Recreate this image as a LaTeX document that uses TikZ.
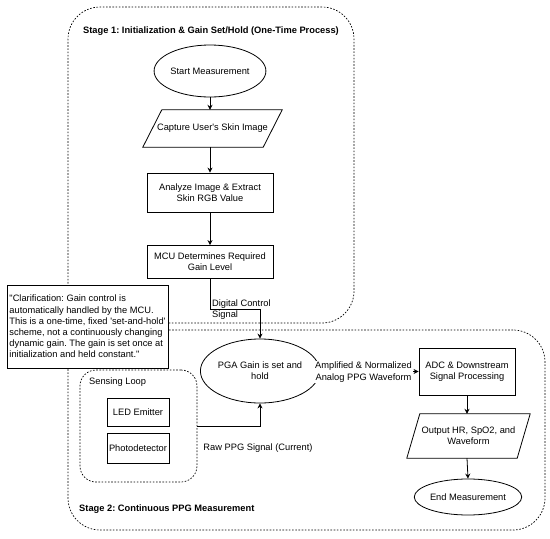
\documentclass[tikz,border=0pt]{standalone}
\usepackage{fontspec}
\setmainfont{Liberation Sans}
\usetikzlibrary{shapes.geometric,arrows.meta}
\begin{document}
\frenchspacing
\begin{tikzpicture}[x=1pt,y=-1pt,
  font=\fontsize{9.3}{11.2}\selectfont,
  stagebox/.style={draw, line width=0.7pt, dash pattern=on 1.6pt off 1.6pt, rounded corners=32pt, inner sep=0pt},
  loopbox/.style={draw, line width=0.7pt, dash pattern=on 1.6pt off 1.6pt, rounded corners=16pt, inner sep=0pt},
  procbox/.style={draw, line width=0.8pt, fill=white, inner sep=0pt, align=center},
  termin/.style={draw, ellipse, line width=0.8pt, fill=white, inner sep=0pt, align=center},
  iobox/.style={inner sep=0pt, align=center},
  conn/.style={line width=0.8pt, -{Stealth[length=5pt,width=5pt]}},
  lbl/.style={inner sep=0pt, align=left}
]
\useasboundingbox (0,0) rectangle (550,539);

% stage containers
\node[stagebox, minimum width=286pt, minimum height=316pt] (s1) at (211,165) {};
\node[stagebox, minimum width=477pt, minimum height=200pt] (s2) at (306.5,430) {};
\node[font=\fontsize{9.3}{11.2}\selectfont\bfseries] (t1) at (211,31) {Stage 1: Initialization \& Gain Set/Hold (One-Time Process)};
\node[font=\fontsize{9.3}{11.2}\selectfont\bfseries, anchor=west, inner sep=0pt] (t2) at (79,509) {Stage 2: Continuous PPG Measurement};

% stage 1 flow
\node[termin, minimum width=92pt, minimum height=52pt] (start) at (210,71) {Start Measurement};
\node[iobox, minimum width=139pt, minimum height=37pt] (cap) at (212.5,128.5) {Capture User\textquotesingle s Skin Image};
\draw[line width=0.8pt] ([xshift=19pt]cap.north west) -- (cap.north east) -- ([xshift=-19pt]cap.south east) -- (cap.south west) -- cycle;
\node[procbox, minimum width=126pt, minimum height=39pt] (ana) at (210,192.5) {Analyze Image \& Extract\\Skin RGB Value};
\node[procbox, minimum width=126pt, minimum height=33pt] (mcu) at (210,262) {MCU Determines Required\\Gain Level};

\draw[conn] (start.south) -- (start.south |- cap.north);
\draw[conn] (start.south |- cap.south) -- (ana.north);
\draw[conn] (ana.south) -- (mcu.north);

% clarification
\node[procbox, align=left, minimum width=161pt, minimum height=83pt] (note) at (87.5,326.5) {\textquotedbl Clarification: Gain control is\\automatically handled by the MCU.\\This is a one-time, fixed \textquotesingle set-and-hold\textquotesingle\\scheme, not a continuously changing\\dynamic gain. The gain is set once at\\initialization and held constant.\textquotedbl};

% stage 2
\node[termin, minimum width=96pt, minimum height=64pt] (pga) at (260,371) {PGA Gain is set and\\hold};
\coordinate (bend1) at (260,309.5);
\draw[conn] (mcu.south) |- (bend1) -- (pga.north);
\node[lbl, anchor=west] (dcl) at (212,309.5) {Digital Control\\Signal};

\node[loopbox, minimum width=117pt, minimum height=112pt] (loop) at (138.5,426) {};
\node[lbl, anchor=west] (loopt) at (89,382) {Sensing Loop};
\node[procbox, minimum width=62pt, minimum height=28pt] (led) at (138,412) {LED Emitter};
\node[procbox, minimum width=62pt, minimum height=30pt] (pd) at (138,448) {Photodetector};

\coordinate (bend2) at (260,426);
\draw[conn] (loop.east |- bend2) -- (bend2) -- (pga.south);
\node[inner sep=0pt] (rawl) at (258,448) {Raw PPG Signal (Current)};

\node[procbox, minimum width=96pt, minimum height=47pt] (adc) at (467,371.5) {ADC \& Downstream\\Signal Processing};
\draw[conn] (pga.east |- adc.west) -- (adc.west);
\node[fill=white, inner sep=1pt, align=center] (ampl) at (363.5,372) {Amplified \& Normalized\\Analog PPG Waveform};

\node[iobox, minimum width=123pt, minimum height=44pt] (out) at (468.5,436) {Output HR, SpO2, and\\Waveform};
\draw[line width=0.8pt] ([xshift=13pt]out.north west) -- (out.north east) -- ([xshift=-13pt]out.south east) -- (out.south west) -- cycle;
\node[termin, minimum width=92pt, minimum height=36pt] (endm) at (468,497) {End Measurement};

\draw[conn] (adc.south) -- (adc.south |- out.north);
\draw[conn] (adc.south |- out.south) -- (endm.north);
\end{tikzpicture}
\end{document}
